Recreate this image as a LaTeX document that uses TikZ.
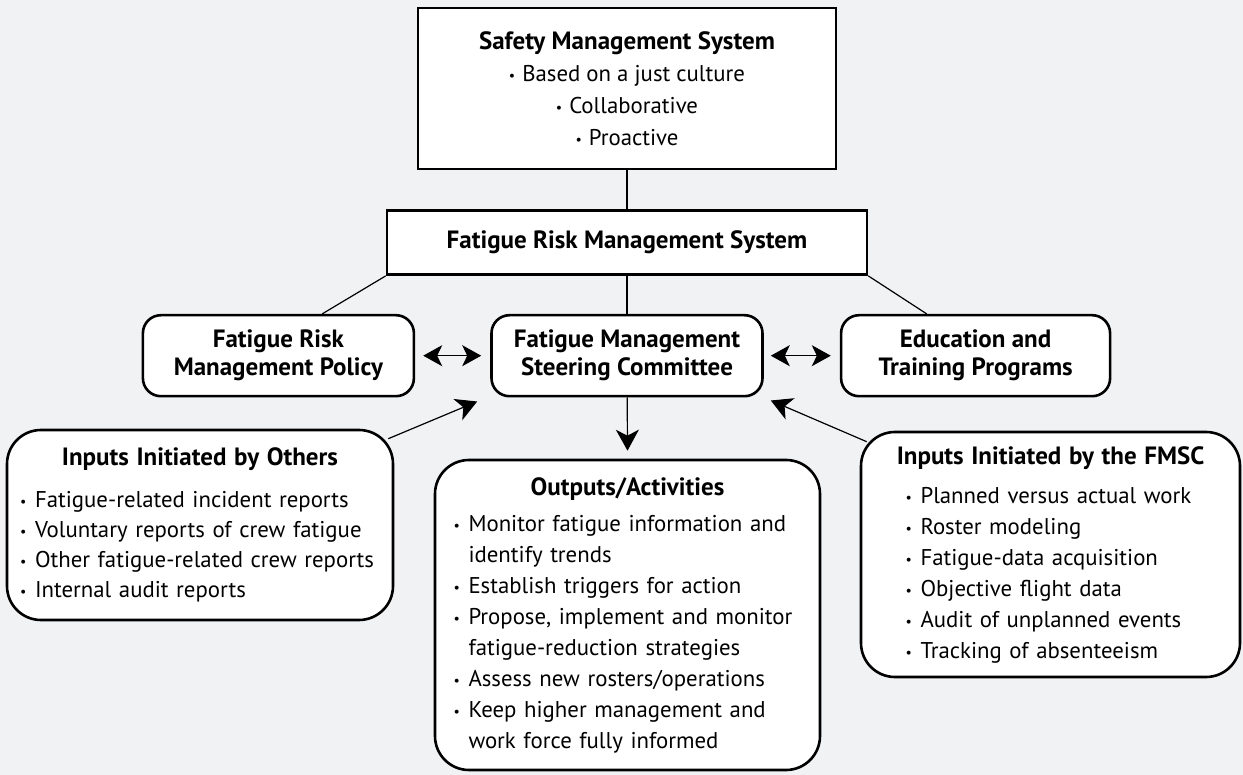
\documentclass[tikz,border=0pt]{standalone}
\usepackage{fontspec}
\setmainfont{PT Sans}
\usepackage{tikz}
\usetikzlibrary{positioning, calc, arrows.meta}
\definecolor{bgpanel}{HTML}{F1F2F4}
\newcommand{\boxfont}{\fontsize{22.8}{31}\selectfont}
\newcommand{\headfont}{\bfseries\fontsize{25}{28}\selectfont}
\newcommand{\sbul}{\raisebox{1pt}{\fontsize{14}{14}\selectfont\textbullet}}
\newcommand{\bitem}[1]{\par\noindent\hangindent=15pt\hangafter=1\makebox[15pt][l]{\sbul}#1}
\newcommand{\btitle}[2][8pt]{{\centering\headfont #2\par}\vspace{#1}}
\tikzset{
  sqbox/.style={draw, line width=2.6pt, fill=white, align=center, font=\boxfont},
  titlebox/.style={sqbox, font=\headfont},
  roundbox/.style={titlebox, rounded corners=18pt},
  listbox/.style={draw, line width=2.6pt, fill=white, rounded corners=34pt, align=left, font=\boxfont, inner sep=0pt},
  link/.style={line width=1.2pt},
  arrowtip/.style={link, -{Stealth[length=21pt, width=23pt, inset=6pt]}},
  twoway/.style={link, {Stealth[length=19pt, width=21pt, inset=5pt]}-{Stealth[length=19pt, width=21pt, inset=5pt]}}
}

\begin{document}
\begin{tikzpicture}[x=1pt, y=-1pt]
  \fill[bgpanel] (0,0) rectangle (1243,775);
  \useasboundingbox (0,0) rectangle (1243,775);

  % top of the hierarchy
  \node[sqbox, font=\fontsize{22.8}{32}\selectfont, minimum width=418pt, minimum height=161pt] (sms) at (627,88.5)
    {{\headfont Safety Management System}\\
     \sbul\hspace{7pt}Based on a just culture\\
     \sbul\hspace{7pt}Collaborative\\
     \sbul\hspace{7pt}Proactive};
  \node[titlebox, minimum width=480pt, minimum height=64pt, below=39pt of sms] (frms)
    {Fatigue Risk Management System};

  % middle row
  \node[roundbox, minimum width=271pt, minimum height=81pt, below=38pt of frms] (fmsc)
    {Fatigue Management\\Steering Committee};
  \node[roundbox, minimum width=271pt, minimum height=81pt, left=75pt of fmsc] (policy)
    {Fatigue Risk\\Management Policy};
  \node[roundbox, minimum width=269pt, minimum height=81pt, right=76pt of fmsc] (edu)
    {Education and\\Training Programs};

  % lists
  \node[listbox, font=\fontsize{22.8}{30}\selectfont, minimum width=386pt, minimum height=190pt, text width=360pt] (others) at (200,525)
    {\btitle[12pt]{Inputs Initiated by Others}
     \bitem{Fatigue-related incident reports}
     \bitem{Voluntary reports of crew fatigue}
     \bitem{Other fatigue-related crew reports}
     \bitem{Internal audit reports}\par};
  \node[listbox, minimum width=385pt, minimum height=310pt, text width=348pt] (outputs) at (627.5,615)
    {\btitle[5pt]{Outputs/Activities}
     \bitem{Monitor fatigue information and\newline identify trends}
     \bitem{Establish triggers for action}
     \bitem{Propose, implement and monitor\newline fatigue-reduction strategies}
     \bitem{Assess new rosters/operations}
     \bitem{Keep higher management and\newline work force fully informed}\par};
  \node[listbox, minimum width=379pt, minimum height=245pt, text width=322pt] (fmscin) at (1050.5,554.5)
    {\btitle{Inputs Initiated by the FMSC}
     \leftskip=16pt
     \bitem{Planned versus actual work}
     \bitem{Roster modeling}
     \bitem{Fatigue-data acquisition}
     \bitem{Objective flight data}
     \bitem{Audit of unplanned events}
     \bitem{Tracking of absenteeism}\par};

  % connectors
  \draw[link] (sms) -- (frms);
  \draw[link] (frms) -- (fmsc);
  \draw[link] (frms.south west) -- ($(policy.north west)!.66!(policy.north east)$);
  \draw[link] (frms.south east) -- ($(edu.north west)!.32!(edu.north east)$);
  \draw[twoway] ([xshift=8pt]policy.east) -- ([xshift=-9pt]fmsc.west);
  \draw[twoway] ([xshift=7pt]fmsc.east) -- ([xshift=-9pt]edu.west);
  \draw[arrowtip] (fmsc) -- ([yshift=8pt]outputs.north);
  \draw[arrowtip] ($(others.north east)+(-6,10)$) -- ($(fmsc.south west)+(-13,4)$);
  \draw[arrowtip] ($(fmscin.north west)+(7,11)$) -- ($(fmsc.south east)+(7,3)$);
\end{tikzpicture}
\end{document}
